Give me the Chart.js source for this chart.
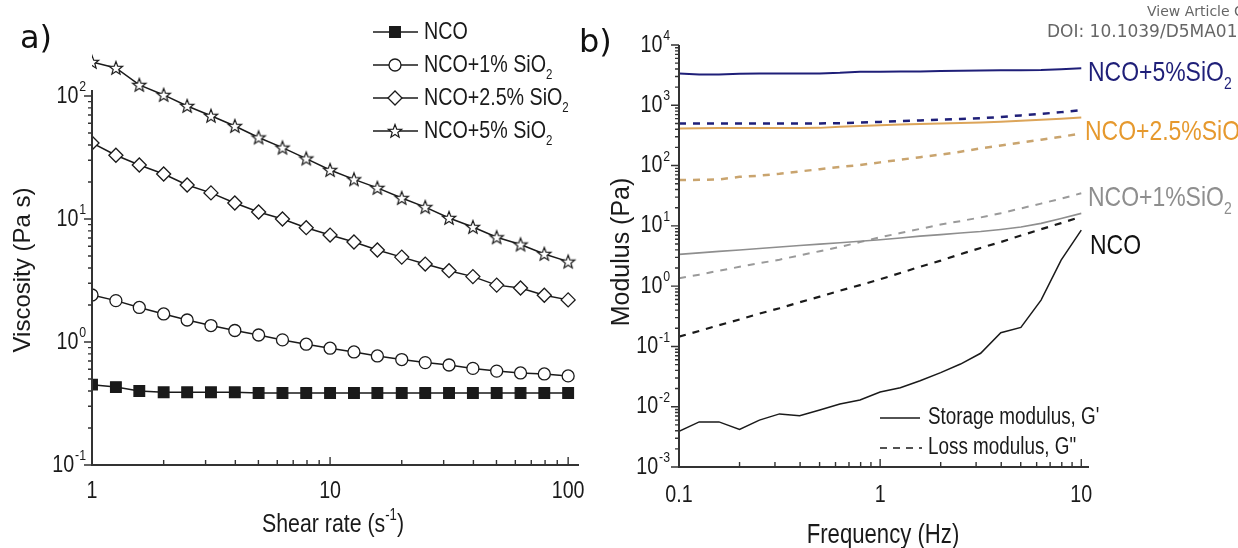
<!DOCTYPE html>
<html>
<head>
<meta charset="utf-8">
<script src="https://cdn.jsdelivr.net/npm/chart.js@4.4.1/dist/chart.umd.min.js"></script>
<style>
  html, body { margin: 0; padding: 0; background: #fff; }
  body { width: 1238px; height: 548px; overflow: hidden; position: relative; }
  canvas { position: absolute; top: 0; }
  #chart-a { left: 0; }
  #chart-b { left: 590px; }
  .tag { position: absolute; font-family: 'DejaVu Sans', sans-serif; color: #111; white-space: nowrap; }
  .src { position: absolute; font-family: 'DejaVu Sans', sans-serif; color: #666; white-space: nowrap; }
</style>
</head>
<body>
<canvas id="chart-a" width="600" height="560"></canvas>
<canvas id="chart-b" width="648" height="560"></canvas>
<div class="tag" style="left:20px;top:18px;font-size:32px;">a)</div>
<div class="tag" style="left:579px;top:22px;font-size:32px;">b)</div>
<div class="src" style="left:1147px;top:3px;font-size:14px;">View Article Online</div>
<div class="src" style="left:1047px;top:21px;font-size:17px;">DOI: 10.1039/D5MA01</div>
<script>
// ---- panel a: viscosity vs shear rate ----
const shearRate = [1, 1.26, 1.58, 2, 2.51, 3.16, 3.98, 5.01, 6.31, 7.94, 10,
  12.6, 15.8, 20, 25.1, 31.6, 39.8, 50.1, 63.1, 79.4, 100];
const viscNCO = [0.45, 0.43, 0.40, 0.39, 0.39, 0.39, 0.39, 0.385, 0.385, 0.385, 0.385,
  0.385, 0.385, 0.385, 0.385, 0.385, 0.385, 0.385, 0.385, 0.385, 0.385];
const visc1 = [2.41, 2.17, 1.91, 1.69, 1.51, 1.36, 1.24, 1.14, 1.04, 0.96, 0.89,
  0.83, 0.77, 0.72, 0.68, 0.65, 0.61, 0.58, 0.56, 0.55, 0.53];
const visc25 = [41.5, 33, 27.5, 23.2, 18.9, 16.3, 13.5, 11.4, 10, 8.5, 7.4,
  6.5, 5.6, 4.9, 4.3, 3.8, 3.4, 2.9, 2.75, 2.4, 2.2];
const visc5 = [189, 169, 123, 102, 83, 69, 57, 46, 38, 31, 25,
  21, 17.9, 14.8, 12.5, 10.2, 8.6, 7.1, 6.2, 5.2, 4.5];
const labelsA = ['NCO', 'NCO+1% SiO₂', 'NCO+2.5% SiO₂', 'NCO+5% SiO₂'];

// ---- panel b: modulus vs frequency ----
const freq = [0.1, 0.126, 0.158, 0.2, 0.251, 0.316, 0.398, 0.501, 0.631, 0.794, 1,
  1.26, 1.58, 2, 2.51, 3.16, 3.98, 5.01, 6.31, 7.94, 10];
const gStoreNCO = [0.0039, 0.0056, 0.0056, 0.0042, 0.006, 0.0076, 0.0071, 0.0088, 0.0111, 0.0129, 0.0175,
  0.0207, 0.027, 0.0367, 0.051, 0.077, 0.169, 0.207, 0.587, 2.71, 8.5];
const gLossNCO = [0.145, 0.18, 0.225, 0.28, 0.35, 0.43, 0.54, 0.67, 0.84, 1.04, 1.3,
  1.65, 2.1, 2.65, 3.4, 4.3, 5.4, 6.9, 8.8, 11.1, 14.2];
const gStore1 = [3.37, 3.56, 3.77, 3.98, 4.21, 4.45, 4.71, 4.98, 5.26, 5.57, 5.89,
  6.3, 6.76, 7.16, 7.59, 8.04, 8.7, 9.55, 11, 13.2, 16.1];
const gLoss1 = [1.35, 1.55, 1.8, 2.09, 2.4, 2.75, 3.24, 3.8, 4.47, 5.37, 6.46,
  7.6, 8.9, 10.5, 12, 13.8, 16.2, 19.5, 23.4, 28.2, 34.7];
const gStore25 = [414, 415, 418, 420, 420, 420, 420, 422, 440, 455, 468,
  480, 490, 500, 510, 520, 535, 555, 575, 600, 630];
const gLoss25 = [57.5, 58, 59, 65, 68, 73, 80, 87, 95, 102, 113,
  125, 138, 152, 170, 193, 215, 240, 268, 300, 342];
const gStore5 = [3380, 3250, 3250, 3350, 3380, 3380, 3380, 3380, 3450, 3600, 3600,
  3620, 3650, 3700, 3730, 3760, 3800, 3820, 3850, 3950, 4100];
const gLoss5 = [500, 500, 500, 500, 500, 500, 500, 500, 505, 515, 530,
  545, 560, 580, 595, 610, 640, 680, 720, 770, 830];
const seriesLabelsB = ['NCO+5%SiO₂', 'NCO+2.5%SiO₂', 'NCO+1%SiO₂', 'NCO'];
const legendB = ["Storage modulus, G'", 'Loss modulus, G"'];

const FAM = "'Liberation Sans', Arial, sans-serif";
const SX = 0.82;             // condensed look of the original lettering
const AXIS = '#333';
const INK = '#1a1a1a';
const NAVY = '#1f1f78';
const ORANGE = '#dca55a';
const GRAY = '#8e8e8e';
const OFFSET_B = 590;

const pts = (xs, ys) => xs.map((x, i) => ({ x, y: ys[i] }));
const isDecade = (v) => Math.abs(Math.log10(v) - Math.round(Math.log10(v))) < 1e-6;

// 1..9 x 10^n tick values between two decades
function logTicks(fromExp, toExp) {
  const out = [];
  for (let e = fromExp; e < toExp; e++) {
    for (let m = 1; m < 10; m++) out.push(+(m * Math.pow(10, e)).toPrecision(3));
  }
  out.push(Math.pow(10, toExp));
  return out;
}

// draw text made of segments (for super/subscripts), condensed horizontally
function drawRich(ctx, segs, x, y, o = {}) {
  const sx = o.sx ?? SX;
  ctx.save();
  ctx.translate(x, y);
  if (o.rotate) ctx.rotate(o.rotate);
  ctx.scale(sx, 1);
  ctx.fillStyle = o.color || INK;
  ctx.textBaseline = 'middle';
  ctx.textAlign = 'left';
  let total = 0;
  const widths = segs.map((sg) => {
    ctx.font = `${sg.s}px ${FAM}`;
    const w = ctx.measureText(sg.t).width + (sg.gap || 0);
    total += w;
    return w;
  });
  let cx = o.align === 'right' ? -total : o.align === 'center' ? -total / 2 : 0;
  segs.forEach((sg, i) => {
    ctx.font = `${sg.s}px ${FAM}`;
    ctx.fillText(sg.t, cx, sg.dy || 0);
    cx += widths[i];
  });
  ctx.restore();
}

const subSegs = (text, s) => {
  const parts = text.split('₂');
  const segs = [{ t: parts[0], s }];
  if (parts.length > 1) segs.push({ t: '2', s: Math.round(s * 0.6), dy: s * 0.42 });
  return segs;
};
const powSegs = (v) => [
  { t: '10', s: 24, gap: 1 },
  { t: String(Math.round(Math.log10(v))), s: 15, dy: -9 },
];

function makeStar(r) {
  const s = Math.ceil(r * 2 + 4);
  const c = document.createElement('canvas');
  c.width = s; c.height = s;
  const g = c.getContext('2d');
  g.translate(s / 2, s / 2 + 0.5);
  g.beginPath();
  for (let i = 0; i < 10; i++) {
    const rad = i % 2 ? r * 0.42 : r;
    const a = -Math.PI / 2 + i * Math.PI / 5;
    g.lineTo(rad * Math.cos(a), rad * Math.sin(a));
  }
  g.closePath();
  g.fillStyle = '#fff'; g.fill();
  g.lineWidth = 1.2; g.strokeStyle = INK; g.stroke();
  return c;
}

// y axis line, tick marks, tick labels and axis titles
const axisDeco = {
  id: 'axisDeco',
  afterDraw(chart, args, o) {
    const { ctx, chartArea: area, scales: { x, y } } = chart;
    ctx.save();
    ctx.strokeStyle = AXIS;
    ctx.lineWidth = 2;
    ctx.beginPath();
    ctx.moveTo(area.left, area.bottom + 1);
    ctx.lineTo(area.left, y.getPixelForValue(o.yTop));
    ctx.stroke();

    ctx.lineWidth = 1.4;
    ctx.beginPath();
    x.ticks.forEach((t) => {
      const px = x.getPixelForValue(t.value);
      const len = isDecade(t.value) ? 8 : 5;
      ctx.moveTo(px, area.bottom);
      ctx.lineTo(px, area.bottom - len);
    });
    y.ticks.forEach((t) => {
      const py = y.getPixelForValue(t.value);
      const len = isDecade(t.value) ? 8 : 4;
      ctx.moveTo(area.left, py);
      ctx.lineTo(area.left - len, py);
    });
    ctx.stroke();
    ctx.restore();

    x.ticks.filter((t) => isDecade(t.value)).forEach((t) => {
      drawRich(ctx, [{ t: String(+t.value.toPrecision(3)), s: 24 }],
        x.getPixelForValue(t.value), o.xLabelY, { align: 'center' });
    });
    y.ticks.filter((t) => isDecade(t.value)).forEach((t) => {
      drawRich(ctx, powSegs(t.value), o.yLabelRight, y.getPixelForValue(t.value), { align: 'right' });
    });
    drawRich(ctx, o.xTitle, o.xTitleAt[0], o.xTitleAt[1], { align: 'center' });
    drawRich(ctx, o.yTitle, o.yTitleAt[0], o.yTitleAt[1],
      { align: 'center', rotate: -Math.PI / 2, sx: 1 });
  },
};

const legendA = {
  id: 'legendA',
  afterDraw(chart) {
    const ctx = chart.ctx;
    chart.data.datasets.forEach((ds, i) => {
      const y = 32 + i * 33;
      ctx.save();
      ctx.strokeStyle = ds.borderColor;
      ctx.lineWidth = ds.borderWidth;
      ctx.beginPath(); ctx.moveTo(373, y); ctx.lineTo(418, y); ctx.stroke();
      ctx.fillStyle = ds.pointBackgroundColor;
      ctx.strokeStyle = ds.pointBorderColor;
      ctx.lineWidth = ds.pointBorderWidth;
      Chart.helpers.drawPoint(ctx, {
        pointStyle: ds.pointStyle, radius: ds.pointRadius, rotation: 0,
        borderWidth: ds.pointBorderWidth,
      }, 395, y);
      ctx.restore();
      drawRich(ctx, subSegs(ds.label, 24), 424, y);
    });
  },
};

const labelsB = {
  id: 'labelsB',
  afterDraw(chart) {
    const ctx = chart.ctx;
    const tags = [
      [seriesLabelsB[0], 1088, 73, NAVY],
      [seriesLabelsB[1], 1085, 132, '#e6992e'],
      [seriesLabelsB[2], 1088, 198, GRAY],
      [seriesLabelsB[3], 1090, 246, '#111'],
    ];
    tags.forEach(([t, x, y, c]) => drawRich(ctx, subSegs(t, 28), x - OFFSET_B, y, { color: c }));
    // line-style key
    ctx.save();
    ctx.strokeStyle = INK;
    ctx.lineWidth = 1.4;
    ctx.beginPath(); ctx.moveTo(880 - OFFSET_B, 418); ctx.lineTo(920 - OFFSET_B, 418); ctx.stroke();
    ctx.setLineDash([7, 6]);
    ctx.beginPath(); ctx.moveTo(880 - OFFSET_B, 448); ctx.lineTo(922 - OFFSET_B, 448); ctx.stroke();
    ctx.restore();
    drawRich(ctx, [{ t: legendB[0], s: 23 }], 928 - OFFSET_B, 418);
    drawRich(ctx, [{ t: legendB[1], s: 23 }], 928 - OFFSET_B, 448);
  },
};

function logAxis(o) {
  return {
    type: 'logarithmic',
    min: o.min,
    max: o.max,
    afterBuildTicks: (s) => { s.ticks = o.ticks.map((v) => ({ value: v })); },
    afterFit: (s) => { if (o.width) s.width = o.width; if (o.height) s.height = o.height; },
    ticks: { display: false, autoSkip: false },
    grid: { display: true, drawOnChartArea: false, drawTicks: false },
    border: { display: !o.width, color: AXIS, width: 2 },
    title: { display: false },
  };
}

const starImg = makeStar(7);
const clipA = { left: 0, top: false, right: false, bottom: 0 };
const markerDs = (label, data, style, radius, fill) => ({
  label, data,
  borderColor: INK, borderWidth: 1.5,
  pointStyle: style, pointRadius: radius, pointHoverRadius: radius,
  pointBackgroundColor: fill, pointBorderColor: INK, pointBorderWidth: 1.3,
  clip: clipA, tension: 0,
});

new Chart(document.getElementById('chart-a'), {
  type: 'line',
  data: {
    datasets: [
      markerDs(labelsA[0], pts(shearRate, viscNCO), 'rect', 7.5, INK),
      markerDs(labelsA[1], pts(shearRate, visc1), 'circle', 6, '#fff'),
      markerDs(labelsA[2], pts(shearRate, visc25), 'rectRot', 7, '#fff'),
      markerDs(labelsA[3], pts(shearRate, visc5), starImg, 7, '#fff'),
    ],
  },
  options: {
    responsive: false,
    animation: false,
    layout: { padding: { top: 51.5, right: 22, left: 0, bottom: 0 } },
    plugins: {
      legend: { display: false }, tooltip: { enabled: false },
      axisDeco: {
        yTop: 112, xLabelY: 491, yLabelRight: 86,
        xTitle: [{ t: 'Shear rate (s', s: 26 }, { t: '-1', s: 16, dy: -9 }, { t: ')', s: 26 }],
        xTitleAt: [333, 525],
        yTitle: [{ t: 'Viscosity (Pa s)', s: 24 }],
        yTitleAt: [23, 270],
      },
    },
    scales: {
      x: logAxis({ min: 1, max: 110, ticks: logTicks(0, 2), height: 95 }),
      y: logAxis({ min: 0.1, max: 230, ticks: logTicks(-1, 2), width: 92 }),
    },
  },
  plugins: [axisDeco, legendA],
});

const lineDs = (data, color, width, dashed) => ({
  data, borderColor: color, borderWidth: width,
  borderDash: dashed ? [7, 7] : [], pointRadius: 0, tension: 0,
});

new Chart(document.getElementById('chart-b'), {
  type: 'line',
  data: {
    datasets: [
      lineDs(pts(freq, gStore5), NAVY, 2, false),
      lineDs(pts(freq, gLoss5), NAVY, 2.5, true),
      lineDs(pts(freq, gStore25), ORANGE, 2, false),
      lineDs(pts(freq, gLoss25), '#c9a46e', 2.5, true),
      lineDs(pts(freq, gStore1), GRAY, 1.6, false),
      lineDs(pts(freq, gLoss1), '#9a9a9a', 2, true),
      lineDs(pts(freq, gStoreNCO), INK, 1.5, false),
      lineDs(pts(freq, gLossNCO), INK, 2.2, true),
    ],
  },
  options: {
    responsive: false,
    animation: false,
    layout: { padding: { top: 45, right: 150, left: 0, bottom: 0 } },
    plugins: {
      legend: { display: false }, tooltip: { enabled: false },
      axisDeco: {
        yTop: 10000, xLabelY: 495, yLabelRight: 670 - OFFSET_B,
        xTitle: [{ t: 'Frequency (Hz)', s: 27 }],
        xTitleAt: [883 - OFFSET_B, 536],
        yTitle: [{ t: 'Modulus (Pa)', s: 25 }],
        yTitleAt: [622 - OFFSET_B, 252],
      },
    },
    scales: {
      x: logAxis({ min: 0.1, max: 10.8, ticks: logTicks(-1, 1), height: 93 }),
      y: logAxis({ min: 0.001, max: 10000, ticks: logTicks(-3, 4), width: 89 }),
    },
  },
  plugins: [axisDeco, labelsB],
});
</script>
</body>
</html>
